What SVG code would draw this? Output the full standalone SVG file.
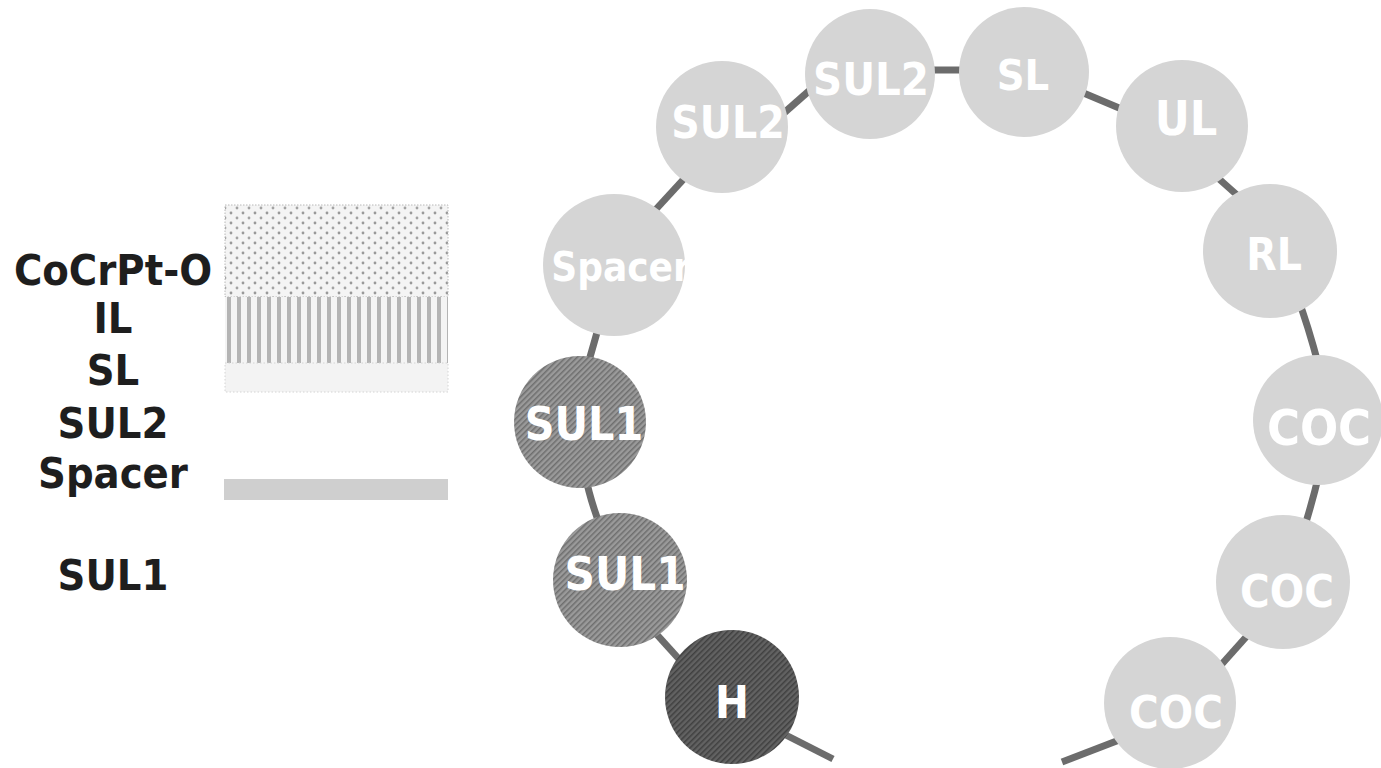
<svg xmlns="http://www.w3.org/2000/svg" width="1381" height="768" viewBox="0 0 1381 768">
<style>
.lbl{font-family:"DejaVu Sans Condensed","DejaVu Sans","Liberation Sans",sans-serif;font-weight:bold;font-size:43px;fill:#1e1e1e;text-anchor:middle}
.bead{font-family:"DejaVu Sans Condensed","DejaVu Sans","Liberation Sans",sans-serif;font-weight:bold;fill:#ffffff;text-anchor:middle}
.light{fill:#d5d5d5}
.mid{fill:url(#hatchMid)}
.dark{fill:url(#hatchDark)}
.conn{stroke:#6c6c6c;stroke-width:7;fill:none;stroke-linecap:butt}
</style>
<defs>
<pattern id="dots" width="12" height="10" patternUnits="userSpaceOnUse">
<rect width="12" height="10" fill="#f4f4f4"/>
<circle cx="3" cy="3" r="1.4" fill="#999999"/>
<circle cx="9" cy="8" r="1.4" fill="#a3a3a3"/>
</pattern>
<pattern id="stripes" width="10" height="10" patternUnits="userSpaceOnUse" x="226">
<rect width="10" height="10" fill="#f4f4f4"/>
<rect x="1" width="4" height="10" fill="#b4b4b4"/>
</pattern>
<pattern id="hatchMid" width="4" height="4" patternUnits="userSpaceOnUse" patternTransform="rotate(45)">
<rect width="4" height="4" fill="#9a9a9a"/>
<rect width="1.5" height="4" fill="#6e6e6e"/>
</pattern>
<pattern id="hatchDark" width="4" height="4" patternUnits="userSpaceOnUse" patternTransform="rotate(45)">
<rect width="4" height="4" fill="#626262"/>
<rect width="1.5" height="4" fill="#404040"/>
</pattern>
</defs>
<rect width="1381" height="768" fill="#ffffff"/>

<g id="legend-labels">
<text class="lbl" x="113" y="285">CoCrPt-O</text>
<text class="lbl" x="113" y="333">IL</text>
<text class="lbl" x="113" y="385">SL</text>
<text class="lbl" x="113" y="438">SUL2</text>
<text class="lbl" x="113" y="488">Spacer</text>
<text class="lbl" x="113" y="590">SUL1</text>
</g>

<g id="legend-stack">
<rect x="225" y="205" width="223" height="92" fill="url(#dots)" stroke="#b8b8b8" stroke-width="1" stroke-dasharray="1.5 1.5"/>
<rect x="225" y="297" width="223" height="66" fill="url(#stripes)"/>
<rect x="225" y="363" width="223" height="29" fill="#f3f3f3" stroke="#d4d4d4" stroke-width="1" stroke-dasharray="1.5 2"/>
<rect x="224" y="479" width="224" height="21" fill="#cfcfcf"/>
</g>

<g id="connectors">
<line class="conn" x1="776" y1="120" x2="818" y2="83"/>
<line class="conn" x1="647" y1="219" x2="693" y2="169"/>
<line class="conn" x1="927" y1="70" x2="967" y2="70"/>
<line class="conn" x1="1074" y1="89" x2="1131" y2="113"/>
<line class="conn" x1="1209" y1="170" x2="1246" y2="203"/>
<path class="conn" d="M1297,296 Q1308,325 1319,367"/>
<path class="conn" d="M1319,474 Q1313,500 1303,532"/>
<line class="conn" x1="1255" y1="627" x2="1213" y2="674"/>
<line class="conn" x1="1127" y1="737" x2="1062" y2="762"/>
<path class="conn" d="M601,318 Q595,340 586,371"/>
<path class="conn" d="M585,474 Q590,500 602,531"/>
<line class="conn" x1="650" y1="627" x2="688" y2="669"/>
<line class="conn" x1="772" y1="728" x2="833" y2="759"/>
</g>

<g id="node-spacer">
<circle class="light" cx="614" cy="265" r="71"/>
<text class="bead" x="621" y="281" font-size="40">Spacer</text>
</g>
<g id="node-sul2a">
<circle class="light" cx="722" cy="127" r="66"/>
<text class="bead" x="728" y="138" font-size="44">SUL2</text>
</g>
<g id="node-sul2b">
<circle class="light" cx="870" cy="74" r="65"/>
<text class="bead" x="871" y="95" font-size="45">SUL2</text>
</g>
<g id="node-sl">
<circle class="light" cx="1024" cy="72" r="65"/>
<text class="bead" x="1023" y="90" font-size="43">SL</text>
</g>
<g id="node-ul">
<circle class="light" cx="1182" cy="126" r="66"/>
<text class="bead" x="1186" y="135" font-size="48">UL</text>
</g>
<g id="node-rl">
<circle class="light" cx="1270" cy="251" r="67"/>
<text class="bead" x="1274" y="270" font-size="44">RL</text>
</g>
<g id="node-coc1">
<circle class="light" cx="1318" cy="420" r="65"/>
<text class="bead" x="1319" y="445" font-size="50">COC</text>
</g>
<g id="node-coc2">
<circle class="light" cx="1283" cy="582" r="67"/>
<text class="bead" x="1287" y="607" font-size="45">COC</text>
</g>
<g id="node-coc3">
<circle class="light" cx="1170" cy="703" r="66"/>
<text class="bead" x="1176" y="728" font-size="45">COC</text>
</g>
<g id="node-sul1a">
<circle class="mid" cx="580" cy="422" r="66"/>
<text class="bead" x="584" y="440" font-size="46">SUL1</text>
</g>
<g id="node-sul1b">
<circle class="mid" cx="620" cy="580" r="67"/>
<text class="bead" x="625" y="590" font-size="47">SUL1</text>
</g>
<g id="node-h">
<circle class="dark" cx="732" cy="697" r="67"/>
<text class="bead" x="732" y="718" font-size="45">H</text>
</g>
</svg>
